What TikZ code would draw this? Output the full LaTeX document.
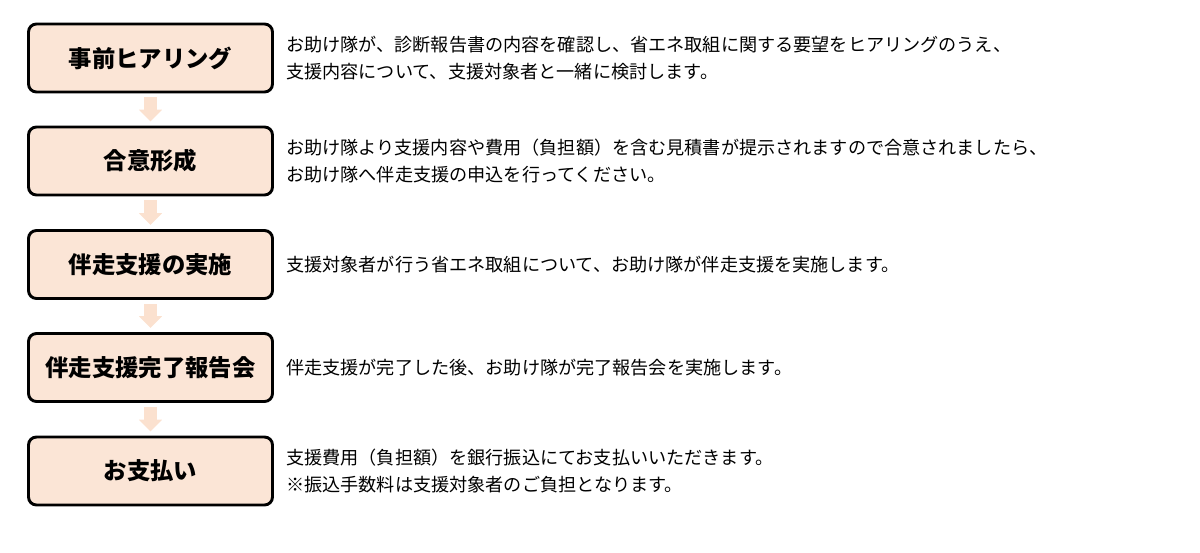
\documentclass[tikz,border=0pt]{standalone}
\usepackage{fontspec}
\setmainfont{Noto Sans CJK JP}
\usetikzlibrary{arrows.meta}
\definecolor{boxfill}{HTML}{FBE5D6}
\definecolor{arrowc}{HTML}{FBE1CF}
\tikzset{
  stepbox/.style={draw=black, line width=2.2pt, rounded corners=6pt, fill=boxfill,
    minimum width=183pt, minimum height=51pt, inner sep=0pt,
    font=\fontsize{17.5pt}{20pt}\selectfont\bfseries},
  desc/.style={anchor=west, align=left, inner sep=0pt,
    font=\fontsize{13.6pt}{20.5pt}\selectfont},
  flowarrow/.style={draw=arrowc, line width=9.5pt, -{Triangle[width=17pt,length=9pt]}, shorten <=3pt, shorten >=3pt}
}
\begin{document}
\begin{tikzpicture}[x=0.75pt,y=-0.75pt]
\useasboundingbox (0,0) rectangle (1200,553);
\node[stepbox] (s1) at (150.5,58) {事前ヒアリング};
\node[stepbox] (s2) at (150.5,161) {合意形成};
\node[stepbox] (s3) at (150.5,264.5) {伴走支援の実施};
\node[stepbox] (s4) at (150.5,367.5) {伴走支援完了報告会};
\node[stepbox] (s5) at (150.5,471) {お支払い};
\draw[flowarrow] (s1.south) -- (s2.north);
\draw[flowarrow] (s2.south) -- (s3.north);
\draw[flowarrow] (s3.south) -- (s4.north);
\draw[flowarrow] (s4.south) -- (s5.north);
\node[desc] (d1) at (286,58) {お助け隊が、診断報告書の内容を確認し、省エネ取組に関する要望をヒアリングのうえ、\\支援内容について、支援対象者と一緒に検討します。};
\node[desc] (d2) at (286,161) {お助け隊より支援内容や費用（負担額）を含む見積書が提示されますので合意されましたら、\\お助け隊へ伴走支援の申込を行ってください。};
\node[desc] (d3) at (286,265) {支援対象者が行う省エネ取組について、お助け隊が伴走支援を実施します。};
\node[desc] (d4) at (286,368) {伴走支援が完了した後、お助け隊が完了報告会を実施します。};
\node[desc] (d5) at (286,471) {支援費用（負担額）を銀行振込にてお支払いいただきます。\\※振込手数料は支援対象者のご負担となります。};
\end{tikzpicture}
\end{document}
